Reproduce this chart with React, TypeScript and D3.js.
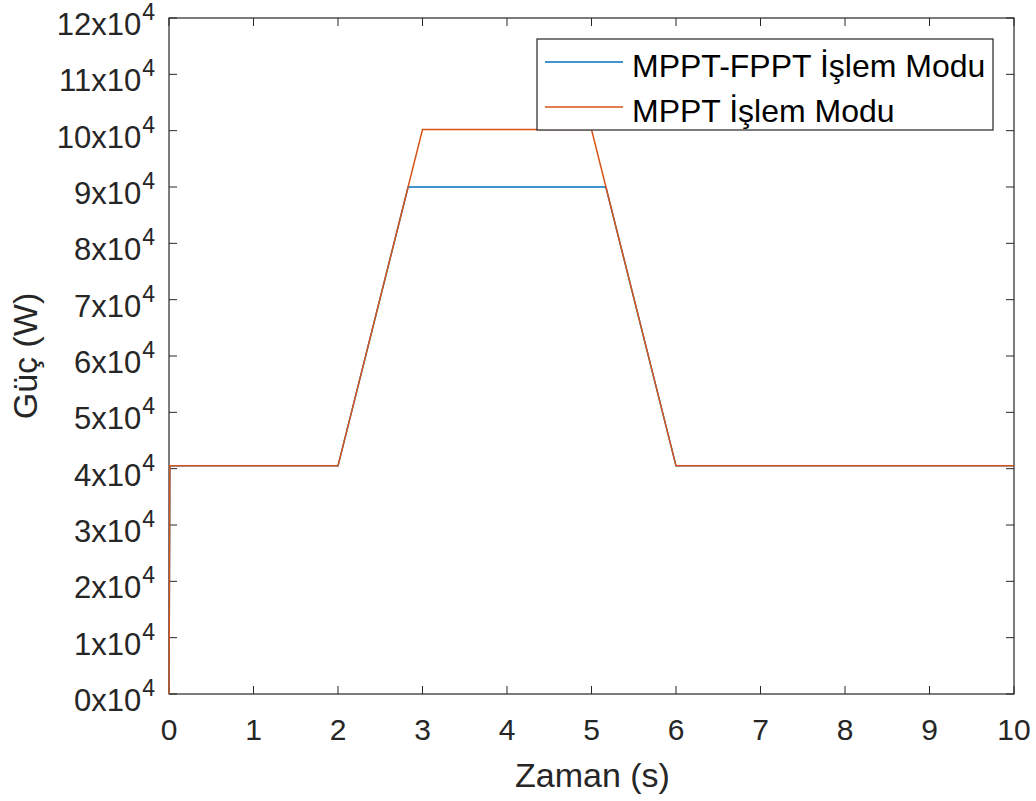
import React from "react";
import * as d3 from "d3";

const xTicks = [0, 1, 2, 3, 4, 5, 6, 7, 8, 9, 10];
const yTicks = [0, 1, 2, 3, 4, 5, 6, 7, 8, 9, 10, 11, 12];

// time (s) and power (x10^4 W)
const fpptTime = [0, 0.01, 2, 2.83, 5.17, 6, 10];
const fpptPower = [0, 4.05, 4.05, 9.0, 9.0, 4.05, 4.05];
const mpptTime = [0, 0.01, 2, 3, 5, 6, 10];
const mpptPower = [0, 4.05, 4.05, 10.02, 10.02, 4.05, 4.05];

const seriesNames = ["MPPT-FPPT İşlem Modu", "MPPT İşlem Modu"];
const seriesColors = ["#0072BD", "#D95319"];

const W = 1036;
const H = 801;
const left = 169;
const right = 1014;
const top = 18;
const bottom = 694;
const font = "'Liberation Sans', Arial, Helvetica, sans-serif";
const axisColor = "#262626";

export default function App() {
  const x = d3.scaleLinear().domain([0, 10]).range([left, right]);
  const y = d3.scaleLinear().domain([0, 12]).range([bottom, top]);
  const line = d3
    .line<[number, number]>()
    .x((d) => x(d[0]))
    .y((d) => y(d[1]));
  const fppt = fpptTime.map((t, i) => [t, fpptPower[i]] as [number, number]);
  const mppt = mpptTime.map((t, i) => [t, mpptPower[i]] as [number, number]);
  const tickLen = 8;

  return (
    <svg
      width={W}
      height={H}
      style={{ position: "absolute", left: 0, top: 0, background: "#fff" }}
      fontFamily={font}
    >
      <rect x={0} y={0} width={W} height={H} fill="#fff" />

      {/* box */}
      <rect
        x={left}
        y={top}
        width={right - left}
        height={bottom - top}
        fill="none"
        stroke={axisColor}
        strokeWidth={1.2}
      />
      {/* x ticks */}
      {xTicks.map((t) => (
        <g key={"x" + t}>
          <line x1={x(t)} x2={x(t)} y1={bottom} y2={bottom - tickLen} stroke={axisColor} strokeWidth={1} />
          <line x1={x(t)} x2={x(t)} y1={top} y2={top + tickLen} stroke={axisColor} strokeWidth={1} />
          <text x={x(t)} y={740} textAnchor="middle" fontSize={30} fill={axisColor}>
            {t}
          </text>
        </g>
      ))}
      {/* y ticks */}
      {yTicks.map((t) => (
        <g key={"y" + t}>
          <line x1={left} x2={left + tickLen} y1={y(t)} y2={y(t)} stroke={axisColor} strokeWidth={1} />
          <line x1={right} x2={right - tickLen} y1={y(t)} y2={y(t)} stroke={axisColor} strokeWidth={1} />
          <text x={155} y={y(t) + 17} textAnchor="end" fontSize={31} fill={axisColor}>
            <tspan>{t}x10</tspan>
            <tspan fontSize={23} dy={-15} dx={1}>4</tspan>
          </text>
        </g>
      ))}

      {/* data */}
      <path d={line(fppt) || ""} fill="none" stroke={seriesColors[0]} strokeWidth={1.5} />
      <path d={line(mppt) || ""} fill="none" stroke={seriesColors[1]} strokeWidth={1.5} />

      {/* axis labels */}
      <text x={(left + right) / 2 + 1} y={787} textAnchor="middle" fontSize={34} fill={axisColor}>
        Zaman (s)
      </text>
      <text
        transform={`translate(37, ${(top + bottom) / 2}) rotate(-90)`}
        textAnchor="middle"
        fontSize={34}
        fill={axisColor}
      >
        Güç (W)
      </text>
      {/* legend */}
      <rect x={537} y={39} width={456} height={91} fill="#fff" stroke={axisColor} strokeWidth={1.2} />
      {seriesNames.map((name, i) => (
        <g key={name}>
          <line x1={545} x2={623} y1={62 + i * 45} y2={62 + i * 45} stroke={seriesColors[i]} strokeWidth={1.5} />
          <text x={632} y={77 + i * 45} fontSize={32} fill="#000">
            {name}
          </text>
        </g>
      ))}
    </svg>
  );
}
